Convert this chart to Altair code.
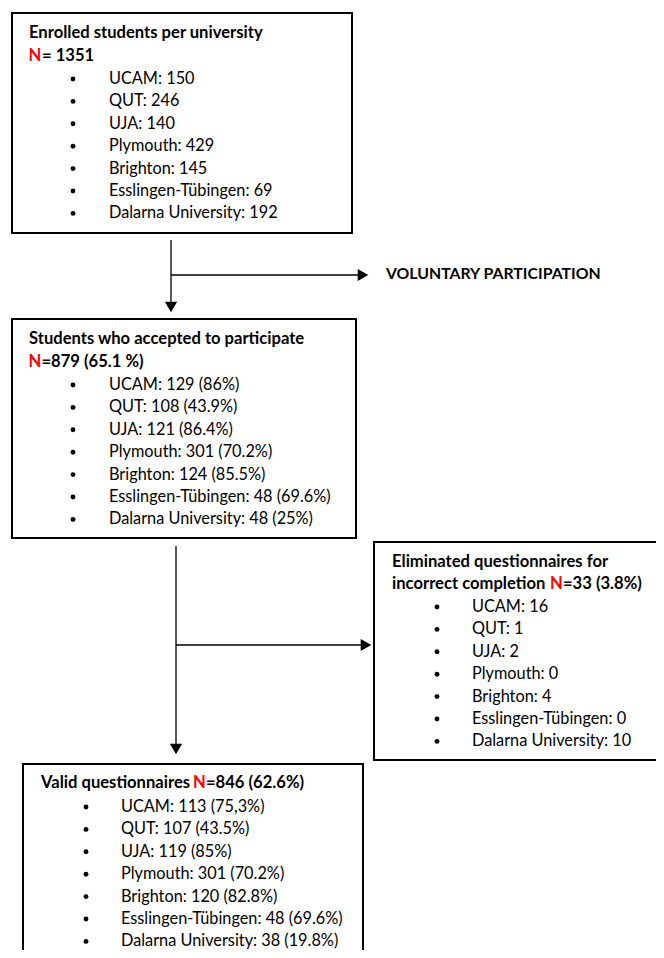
import altair as alt
import pandas as pd

# ---------------- data ----------------
universities = ["UCAM", "QUT", "UJA", "Plymouth", "Brighton", "Esslingen-Tübingen", "Dalarna University"]
enrolled = [150, 246, 140, 429, 145, 69, 192]
accepted = [129, 108, 121, 301, 124, 48, 48]
accepted_pct = ["86%", "43.9%", "86.4%", "70.2%", "85.5%", "69.6%", "25%"]
eliminated = [16, 1, 2, 0, 4, 0, 10]
valid = [113, 107, 119, 301, 120, 48, 38]
valid_pct = ["75,3%", "43.5%", "85%", "70.2%", "82.8%", "69.6%", "19.8%"]

titles = [
    "Enrolled students per university",
    "Students who accepted to participate",
    ["Eliminated questionnaires for", "incorrect completion "],
    "Valid questionnaires ",
]
n_texts = ["= 1351", "=879 (65.1 %)", "=33 (3.8%)", "=846 (62.6%)"]
side_label = "VOLUNTARY PARTICIPATION"

items1 = [f"{u}: {v}" for u, v in zip(universities, enrolled)]
items2 = [f"{u}: {v} ({p})" for u, v, p in zip(universities, accepted, accepted_pct)]
items3 = [f"{u}: {v}" for u, v in zip(universities, eliminated)]
items4 = [f"{u}: {v} ({p})" for u, v, p in zip(universities, valid, valid_pct)]

# ---------------- layout (page pixel coordinates) ----------------
FONT = "Lato"
FS = 16.3
FSB = 16.6
FS_SIDE = 15.8
LINE = 22.4

boxes = pd.DataFrame([
    dict(x=12, x2=352, y=13, y2=233),
    dict(x=12, x2=356, y=319, y2=538),
    dict(x=374, x2=720, y=542, y2=760),
    dict(x=23, x2=363, y=764, y2=1010),
])

rules = pd.DataFrame([
    dict(x=171, x2=171, y=240, y2=304),
    dict(x=171, x2=360, y=275, y2=275),
    dict(x=176, x2=176, y=546, y2=746),
    dict(x=176, x2=364, y=645, y2=645),
])

heads_down = pd.DataFrame([dict(x=171, y=307), dict(x=176, y=749)])
heads_right = pd.DataFrame([dict(x=363, y=275), dict(x=366, y=645)])

bold_rows = []
normal_rows = []
bullet_rows = []

def add_items(items, bx, tx, y0):
    for i, t in enumerate(items):
        y = y0 + i * LINE
        bullet_rows.append(dict(x=bx, y=y))
        normal_rows.append(dict(x=tx, y=y, text=t))

# box 1
bold_rows += [dict(x=29, y=33, text=titles[0], c="black", s=FSB),
              dict(x=28.5, y=56, text="N", c="#ff0000", s=FSB),
              dict(x=42, y=56, text=n_texts[0], c="black", s=FSB)]
add_items(items1, 73, 109, 79)
# box 2
bold_rows += [dict(x=29, y=339, text=titles[1], c="black", s=FSB),
              dict(x=28.5, y=362, text="N", c="#ff0000", s=FSB),
              dict(x=41.5, y=362, text=n_texts[1], c="black", s=FSB)]
add_items(items2, 73, 109, 385)
# box 3
bold_rows += [dict(x=392, y=562, text=titles[2][0], c="black", s=FSB),
              dict(x=392, y=584, text=titles[2][1], c="black", s=FSB),
              dict(x=550, y=584, text="N", c="#ff0000", s=FSB),
              dict(x=563, y=584, text=n_texts[2], c="black", s=FSB)]
add_items(items3, 437, 472, 607)
# box 4
bold_rows += [dict(x=41, y=783, text=titles[3], c="black", s=FSB),
              dict(x=193, y=783, text="N", c="#ff0000", s=FSB),
              dict(x=206, y=783, text=n_texts[3], c="black", s=FSB)]
add_items(items4, 86, 121, 807)
# side label
bold_rows.append(dict(x=386, y=274, text=side_label, c="black", s=FS_SIDE))

bold_df = pd.DataFrame(bold_rows)
normal_df = pd.DataFrame(normal_rows)
bullet_df = pd.DataFrame(bullet_rows)

# ---------------- chart ----------------
W, H = 648, 942
xs = alt.Scale(domain=[8, 8 + W], nice=False, zero=False)
ys = alt.Scale(domain=[8 + H, 8], nice=False, zero=False)

def X(f):
    return alt.X(f, type="quantitative", scale=xs, axis=None)

def Y(f):
    return alt.Y(f, type="quantitative", scale=ys, axis=None)

box_layer = alt.Chart(boxes).mark_rect(fill="white", stroke="black", strokeWidth=2).encode(
    x=X("x"), x2="x2", y=Y("y"), y2="y2")

rule_layer = alt.Chart(rules).mark_rule(color="black", strokeWidth=1.3).encode(
    x=X("x"), x2="x2", y=Y("y"), y2="y2")

down_layer = alt.Chart(heads_down).mark_point(
    shape="triangle-down", filled=True, color="black", size=150, opacity=1).encode(x=X("x"), y=Y("y"))
right_layer = alt.Chart(heads_right).mark_point(
    shape="triangle-right", filled=True, color="black", size=150, opacity=1).encode(x=X("x"), y=Y("y"))

bullet_layer = alt.Chart(bullet_df).mark_circle(color="black", size=24, opacity=1).encode(
    x=X("x"), y=Y("y"))

normal_layer = alt.Chart(normal_df).mark_text(
    align="left", baseline="middle", font=FONT, fontSize=FS, color="black").encode(
    x=X("x"), y=Y("y"), text="text:N")

bold_layer = alt.Chart(bold_df).mark_text(
    align="left", baseline="middle", font=FONT, fontWeight="bold").encode(
    x=X("x"), y=Y("y"), text="text:N",
    color=alt.Color("c:N", scale=None),
    size=alt.Size("s:Q", scale=None))

chart = alt.layer(box_layer, rule_layer, down_layer, right_layer, bullet_layer,
                  normal_layer, bold_layer).properties(
    width=W, height=H, padding=0,
    autosize=alt.AutoSizeParams(type="none")
).configure_view(stroke=None)

chart.save("out.html", embed_options={"renderer": "svg", "actions": False})
